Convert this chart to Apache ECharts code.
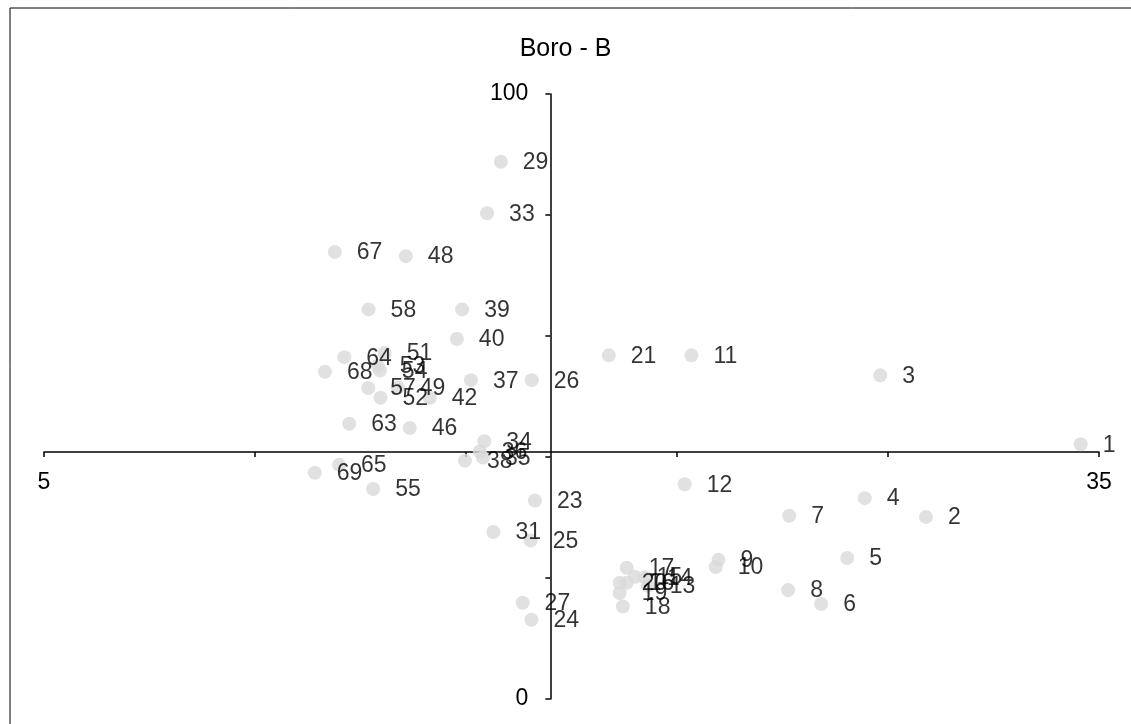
<!DOCTYPE html>
<html><head><meta charset="utf-8">
<script src="https://cdn.jsdelivr.net/npm/echarts@6/dist/echarts.min.js"></script>
<style>html,body{margin:0;padding:0;background:#fff}#c{width:1131px;height:724px}</style>
</head><body><div id="c"></div>
<script>
// point ids
const ids = [1,2,3,4,5,6,7,8,9,10,11,12,13,14,15,16,17,18,19,20,21,23,24,25,26,27,29,31,33,34,35,36,37,38,39,40,42,46,48,49,51,52,53,54,55,57,58,63,64,65,67,68,69];
// x values
const xs = [34.48,30.08,28.78,28.34,27.84,27.10,26.19,26.16,24.18,24.10,23.41,23.22,22.17,22.09,21.80,21.57,21.57,21.46,21.37,21.37,21.06,18.96,18.86,18.84,18.87,18.61,17.99,17.78,17.60,17.52,17.48,17.39,17.14,16.97,16.89,16.74,15.97,15.40,15.29,15.06,14.69,14.57,14.49,14.55,14.36,14.22,14.23,13.68,13.54,13.39,13.27,12.99,12.70];
// y values
const ys = [42.1,30.1,53.5,33.2,23.3,15.7,30.3,18.0,23.0,21.8,56.8,35.5,18.7,20.1,20.2,19.2,21.7,15.3,17.5,19.2,56.8,32.8,13.1,26.2,52.7,15.9,88.8,27.6,80.3,42.6,39.9,40.9,52.7,39.4,64.4,59.5,49.8,44.8,73.2,51.5,57.2,49.8,55.1,54.3,34.7,51.4,64.4,45.5,56.5,38.7,73.9,54.1,37.4];
// axis ticks / labels
const xTicks = [5,11,17,23,29,35];
const xLabels = [5,35];
const yTicks = [0,20,40,60,80,100];
const yLabels = [0,100];
const xCross = 19.4;   // where the vertical axis crosses
const yCross = 40.83;  // where the horizontal axis crosses

const FONT = 'Liberation Sans, Arial, sans-serif';
const FS = 23;
const chart = echarts.init(document.getElementById('c'), null, {renderer:'canvas'});
const gridL = 44, gridR = 32, gridT = 94, gridB = 25;
const W = 1131, H = 724;
const pw = W - gridL - gridR, ph = H - gridT - gridB;
const yOff = -((yCross - 0) / 100) * ph;
const xOff = -((xCross - 5) / 30) * pw;

const data = ids.map((id, i) => ({name: String(id), value: [xs[i], ys[i]]}));

chart.setOption({
  animation: false,
  title: {text: 'Boro - B', left: 'center', top: 32,
    textStyle: {fontFamily: FONT, fontSize: 25, fontWeight: 'normal', color: '#000'}},
  graphic: [{type: 'rect', shape: {x: 10, y: 8, width: 1300, height: 900},
    style: {fill: 'none', stroke: '#000', lineWidth: 1}, silent: true}],
  grid: {left: gridL, right: gridR, top: gridT, bottom: gridB},
  xAxis: {type: 'value', min: 5, max: 35, position: 'bottom', offset: yOff,
    splitLine: {show: false},
    axisLine: {lineStyle: {color: '#000', width: 1.5}},
    axisTick: {length: 5, customValues: xTicks, lineStyle: {color: '#000', width: 1.5}},
    axisLabel: {customValues: xLabels, margin: 19, color: '#000', fontFamily: FONT, fontSize: FS}},
  yAxis: {type: 'value', min: 0, max: 100, position: 'left', offset: xOff,
    splitLine: {show: false},
    axisLine: {show: true, lineStyle: {color: '#000', width: 1.5}},
    axisTick: {show: true, length: 5, customValues: yTicks, lineStyle: {color: '#000', width: 1.5}},
    axisLabel: {customValues: yLabels, margin: 22, color: '#000', fontFamily: FONT, fontSize: FS}},
  series: [{type: 'scatter', data: data, symbolSize: 14,
    itemStyle: {color: '#d9d9d9'},
    label: {show: true, position: 'right', distance: 15, offset: [0, 1], formatter: '{b}',
      color: '#000', fontFamily: FONT, fontSize: FS}}]
});
</script></body></html>
